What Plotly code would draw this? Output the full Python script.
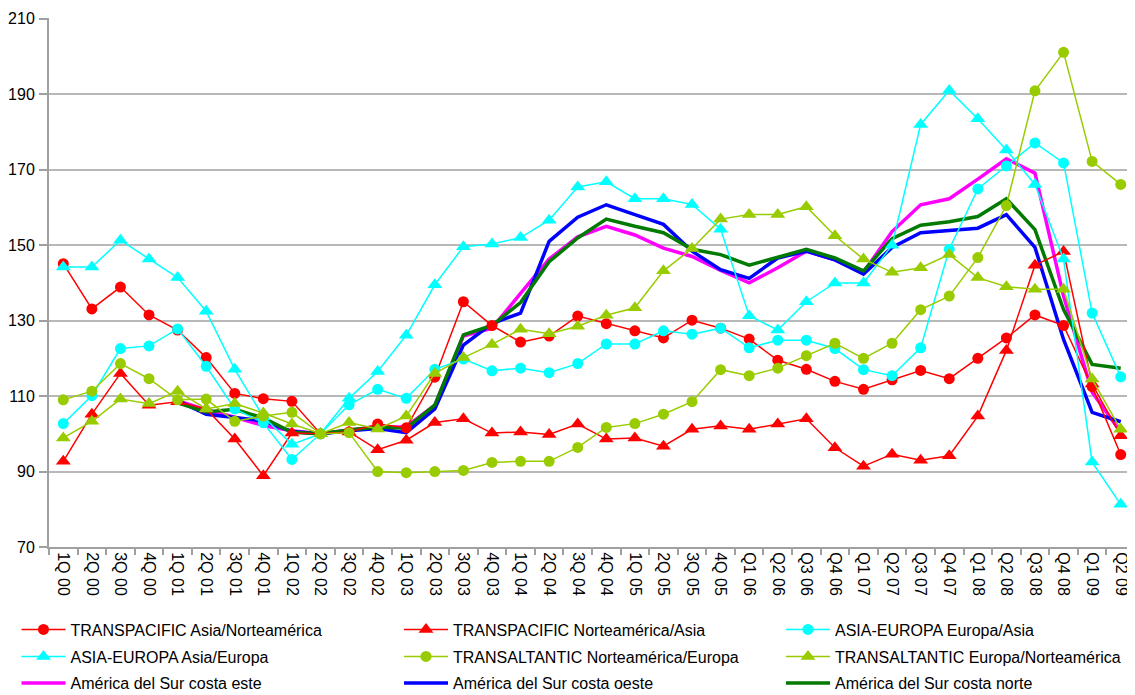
import plotly.graph_objects as go

categories = ["1Q 00", "2Q 00", "3Q 00", "4Q 00", "1Q 01", "2Q 01", "3Q 01", "4Q 01",
              "1Q 02", "2Q 02", "3Q 02", "4Q 02", "1Q 03", "2Q 03", "3Q 03", "4Q 03",
              "1Q 04", "2Q 04", "3Q 04", "4Q 04", "1Q 05", "2Q 05", "3Q 05", "4Q 05",
              "Q1 06", "Q2 06", "Q3 06", "Q4 06", "Q1 07", "Q2 07", "Q3 07", "Q4 07",
              "Q1 08", "Q2 08", "Q3 08", "Q4 08", "Q1 09", "Q2 09"]

transpacific_asia_na = [145.1, 133.1, 138.9, 131.5, 127.5, 120.2, 110.7, 109.3, 108.6, 100, 100.5, 102.6,
                        101.6, 115, 135, 128.7, 124.3, 125.9, 131.2, 129.2, 127.3, 125.4, 130.1, 128.0,
                        125.1, 119.5, 117.1, 113.9, 111.8, 114.3, 116.8, 114.6, 120, 125.4, 131.5, 128.7,
                        112.5, 94.5]
transpacific_na_asia = [92.7, 105.2, 116.0, 107.6, 108.5, 106.6, 98.6, 88.9, 100.2, 100, 100.5, 95.8,
                        98.3, 103, 104, 100.2, 100.5, 99.8, 102.6, 98.6, 98.9, 96.7, 101.2, 102.1,
                        101.2, 102.6, 104, 96.3, 91.4, 94.6, 93, 94.2, 104.7, 122.1, 144.7, 148.3,
                        113.2, 99.5]
asia_europa_eu_asia = [102.7, 110.1, 122.6, 123.3, 127.8, 117.9, 106.6, 102.9, 93.2, 100, 107.7, 111.8,
                       109.4, 117.1, 119.8, 116.7, 117.4, 116.2, 118.6, 123.8, 123.8, 127.3, 126.4, 128,
                       122.8, 124.8, 124.8, 122.6, 117, 115.4, 122.8, 148.9, 164.9, 171, 177.1, 171.8,
                       132, 115.1]
asia_europa_asia_eu = [144.2, 144.2, 151.3, 146.3, 141.4, 132.5, 117.1, 104.5, 97.2, 100, 109.4, 116.5,
                       126.1, 139.5, 149.6, 150.3, 152, 156.6, 165.4, 166.8, 162.3, 162.3, 160.8, 154.2,
                       131.3, 127.5, 135, 140, 140, 150, 182, 191, 183.5, 175.2, 166.1, 146.3,
                       92.5, 81.3]
transatlantic_na_eu = [109, 111.3, 118.6, 114.6, 109, 109.2, 103.3, 104.7, 105.7, 100, 100.3, 90,
                       89.7, 90, 90.3, 92.4, 92.7, 92.7, 96.4, 101.7, 102.7, 105.2, 108.5, 117,
                       115.4, 117.4, 120.7, 124, 120, 124, 132.9, 136.5, 146.7, 160.5, 190.9, 201.1,
                       172.2, 166.1]
transatlantic_eu_na = [98.9, 103.3, 109.2, 108, 111.3, 106.6, 108, 105.5, 102.6, 100, 103, 101.3,
                       104.7, 116, 120.2, 123.7, 127.7, 126.5, 128.5, 131.4, 133.4, 143.2, 149.1, 156.9,
                       158.1, 158.1, 160.2, 152.5, 146.3, 142.8, 144, 147.5, 141.4, 139, 138.3, 138.3,
                       114.5, 101.2]
sa_costa_este = [None, None, None, None, 108.8, 106.3, 104.4, 102.2, 100.8, 100, 101, 101.8,
                 101.9, 107.6, 125.9, 128, 137.2, 146.3, 152.2, 155, 152.7, 149.2, 147, 143.3,
                 140, 144, 148.4, 146.1, 142.8, 153.6, 160.7, 162.3, 167.5, 172.9, 169.1, 136.5,
                 111, 100.5]
sa_costa_oeste = [None, None, None, None, 108.8, 105.2, 104.3, 103.4, 100.6, 100, 100.8, 101.4,
                  100.3, 106.6, 123.5, 129.2, 132, 151, 157.4, 160.7, 158.1, 155.5, 148.4, 143.5,
                  141.2, 146.6, 148.4, 146.1, 142.3, 149.4, 153.3, 153.8, 154.5, 158.1, 149.4, 125,
                  105.7, 103.2]
sa_costa_norte = [None, None, None, None, 108.2, 105.8, 106.5, 104.2, 100.4, 100, 101, 101.8,
                  101.5, 107.6, 126.2, 128.7, 134.8, 145.6, 151.9, 156.9, 155, 153.3, 148.9, 147.5,
                  144.7, 146.7, 148.9, 146.6, 143.2, 151.7, 155.3, 156.2, 157.6, 162.3, 154.1, 132.9,
                  118.4, 117.4]

RED = "#FF0000"
CYAN = "#00FFFF"
YG = "#99CC00"
PINK = "#FF00FF"
BLUE = "#0000FF"
GREEN = "#007A00"

# (name, values, color, symbol or None, legend row, legend column)
sa_series = [
    ("América del Sur costa este", sa_costa_este, PINK, None, 2, 0),
    ("América del Sur costa oeste", sa_costa_oeste, BLUE, None, 2, 1),
    ("América del Sur costa norte", sa_costa_norte, GREEN, None, 2, 2),
]
marker_series = [
    ("TRANSPACIFIC Asia/Norteamérica", transpacific_asia_na, RED, "circle", 0, 0),
    ("TRANSPACIFIC Norteamérica/Asia", transpacific_na_asia, RED, "triangle-up", 0, 1),
    ("ASIA-EUROPA Europa/Asia", asia_europa_eu_asia, CYAN, "circle", 0, 2),
    ("ASIA-EUROPA Asia/Europa", asia_europa_asia_eu, CYAN, "triangle-up", 1, 0),
    ("TRANSALTANTIC Norteamérica/Europa", transatlantic_na_eu, YG, "circle", 1, 1),
    ("TRANSALTANTIC Europa/Norteamérica", transatlantic_eu_na, YG, "triangle-up", 1, 2),
]

W, H = 1127, 687  # page body has an 8px margin
col_x = [8.5, 391, 773]
row_top = [604.5, 631.5, 658]


def legend_id(row, col):
    n = row * 3 + col + 1
    return "legend" if n == 1 else f"legend{n}"


fig = go.Figure()
for name, vals, color, sym, row, col in sa_series:
    fig.add_trace(go.Scatter(
        x=categories, y=vals, name=name, mode="lines",
        line=dict(color=color, width=3.5), legend=legend_id(row, col),
        connectgaps=False))
for name, vals, color, sym, row, col in marker_series:
    fig.add_trace(go.Scatter(
        x=categories, y=vals, name=name, mode="lines+markers",
        line=dict(color=color, width=1.5),
        marker=dict(symbol=sym, color=color, size=11 if sym == "circle" else 13,
                    line=dict(width=0)),
        legend=legend_id(row, col)))

legends = {}
for r in range(3):
    for c in range(3):
        legends[legend_id(r, c)] = dict(
            orientation="v", xref="container", yref="container",
            xanchor="left", yanchor="top",
            x=col_x[c] / W, y=1 - row_top[r] / H, itemwidth=44,
            font=dict(family="Liberation Sans, Arial, sans-serif", size=16, color="#000000"),
            bgcolor="rgba(0,0,0,0)")

fig.update_layout(
    width=W, height=H,
    margin=dict(l=41, r=0, t=10, b=148, autoexpand=False),
    plot_bgcolor="white", paper_bgcolor="white",
    font=dict(family="Liberation Sans, Arial, sans-serif", size=16, color="#000000"),
    showlegend=True,
    **legends,
    xaxis=dict(
        type="category", tickangle=90, tickson="boundaries", ticks="outside",
        ticklen=6, tickcolor="#A0A0A0", tickwidth=1.5, automargin=False,
        showline=True, linecolor="#A0A0A0", linewidth=2, showgrid=False,
        tickfont=dict(size=16), range=[-0.5, len(categories) - 0.5]),
    yaxis=dict(
        range=[70, 210.2], tickvals=[70, 90, 110, 130, 150, 170, 190, 210],
        ticks="outside", ticklen=8, ticklabeloverflow="allow",
        tickcolor="#A0A0A0", tickwidth=1.5, automargin=False, ticklabelstandoff=1,
        showline=True, linecolor="#A0A0A0", linewidth=2,
        showgrid=True, gridcolor="#B8B8B8", gridwidth=1.5, zeroline=False,
        tickfont=dict(size=16)),
)

fig.write_html("out.html")
